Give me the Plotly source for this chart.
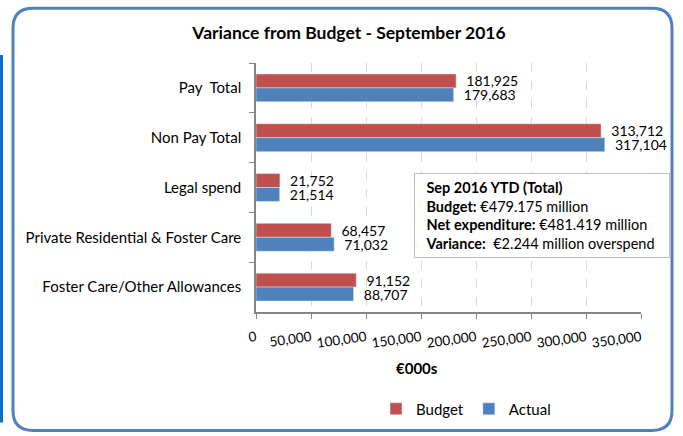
import plotly.graph_objects as go

categories = ["Pay  Total", "Non Pay Total", "Legal spend",
              "Private Residential & Foster Care", "Foster Care/Other Allowances"]
budget = [181925, 313712, 21752, 68457, 91152]
actual = [179683, 317104, 21514, 71032, 88707]
x_ticks = [0, 50000, 100000, 150000, 200000, 250000, 300000, 350000]

FONT = "Lato"
W, H = 683, 436
L, R, T, B = 256, 42, 63, 123
pw, ph = W - L - R, H - T - B


def px(x):
    return (x - L) / pw


def py(y):
    return (H - B - y) / ph


fig = go.Figure()
fig.add_trace(go.Bar(y=categories, x=budget, orientation="h", name="Budget",
                     marker=dict(color="#C0504D"),
                     texttemplate="  %{x:,}", textposition="outside",
                     textfont=dict(size=14, color="#000000"), cliponaxis=False,
                     constraintext="none"))
fig.add_trace(go.Bar(y=categories, x=actual, orientation="h", name="Actual",
                     marker=dict(color="#4F81BD"),
                     texttemplate="  %{x:,}", textposition="outside",
                     textfont=dict(size=14, color="#000000"), cliponaxis=False,
                     constraintext="none"))

fig.update_layout(
    width=W, height=H, autosize=False,
    margin=dict(l=L, r=R, t=T, b=B, pad=0),
    paper_bgcolor="white", plot_bgcolor="white",
    font=dict(family=FONT, size=13, color="#000000"),
    barmode="group", bargap=0.44, bargroupgap=0,
    title=dict(text="<b>Variance from Budget - September 2016</b>",
               x=349 / W, xanchor="center", y=1 - 33 / H, yanchor="middle",
               font=dict(size=17.5, family=FONT)),
    legend=dict(orientation="h", x=px(466), xanchor="center", y=py(409), yanchor="middle",
                font=dict(size=15), itemwidth=30, traceorder="normal", bgcolor="rgba(0,0,0,0)"),
    xaxis=dict(range=[0, 350000], tickvals=x_ticks, ticktext=[f"{v:,}" for v in x_ticks],
               tickangle=-8, showline=True, linecolor="#868686", linewidth=1.5,
               ticks="outside", ticklen=5, tickcolor="#868686", automargin=False,
               showgrid=True, gridcolor="#D9D9D9", griddash="dash", zeroline=False,
               tickfont=dict(size=13.5), ticklabelstandoff=6),
    yaxis=dict(autorange="reversed", showline=True, linecolor="#868686", linewidth=1.5,
               ticks="outside", ticklen=5, tickcolor="#868686", tickson="boundaries",
               showgrid=False, tickfont=dict(size=15), ticklabelstandoff=10, automargin=False),
)

fig.add_annotation(text="<b>€000s</b>", xref="paper", yref="paper",
                   x=px(417), y=py(380), showarrow=False, font=dict(size=15))

pad = "\u00a0\u00a0"
box_lines = ["<b>Sep 2016 YTD (Total)</b>",
             "<b>Budget:</b> €479.175 million",
             "<b>Net expenditure:</b> €481.419 million",
             "<b>Variance:</b>  €2.244 million overspend"]
fig.add_annotation(
    text="<br>".join(pad + s for s in box_lines),
    xref="paper", yref="paper", x=px(414), y=py(173), xanchor="left", yanchor="top",
    align="left", showarrow=False, font=dict(size=14.5), bgcolor="white",
    width=246, height=75,
    bordercolor="#BFBFBF", borderwidth=1, borderpad=4)

# outer rounded border
x0, x1, y0, y1, r = 13, 672, 8, 432, 20
path = (f"M {px(x0 + r)} {py(y0)} L {px(x1 - r)} {py(y0)} Q {px(x1)} {py(y0)} {px(x1)} {py(y0 + r)} "
        f"L {px(x1)} {py(y1 - r)} Q {px(x1)} {py(y1)} {px(x1 - r)} {py(y1)} "
        f"L {px(x0 + r)} {py(y1)} Q {px(x0)} {py(y1)} {px(x0)} {py(y1 - r)} "
        f"L {px(x0)} {py(y0 + r)} Q {px(x0)} {py(y0)} {px(x0 + r)} {py(y0)} Z")
fig.add_shape(type="path", path=path, xref="paper", yref="paper",
              line=dict(color="#4F81BD", width=3), layer="below")
fig.add_shape(type="line", xref="paper", yref="paper", x0=px(1.5), x1=px(1.5),
              y0=py(55), y1=py(424), line=dict(color="#0A70C8", width=3))

fig.write_html("out.html", config={"displayModeBar": False},
               post_script="document.body.style.margin='0';")
